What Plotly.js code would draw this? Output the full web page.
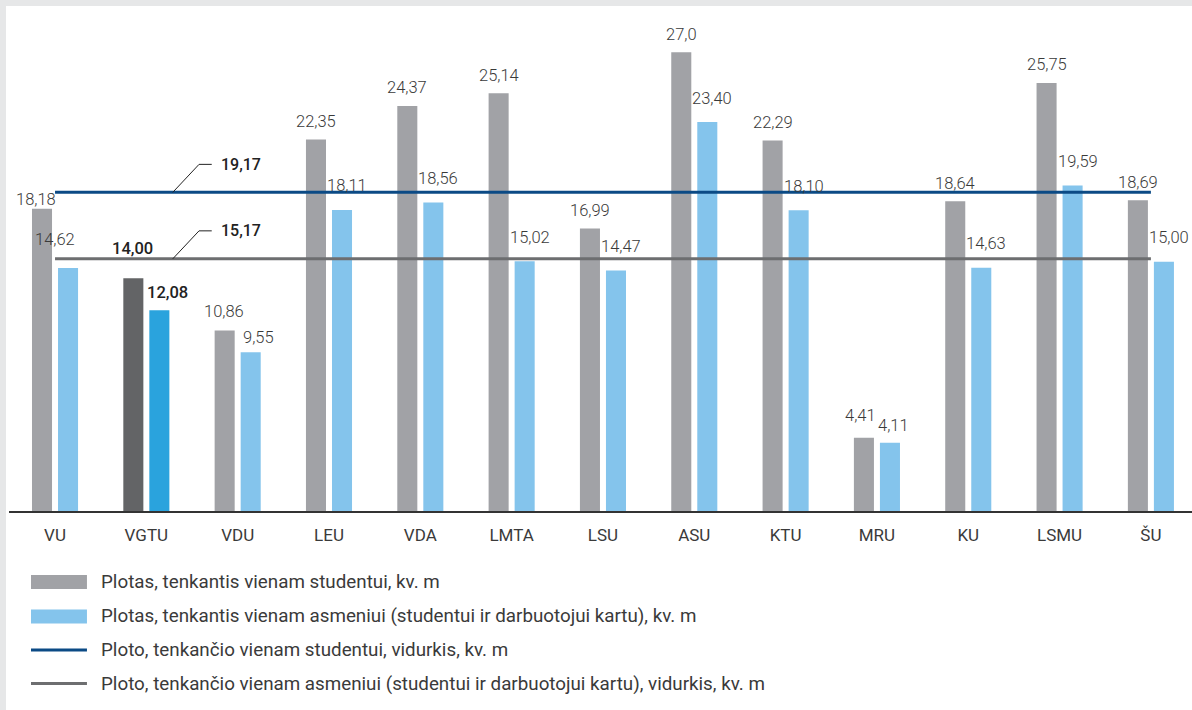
<!DOCTYPE html>
<html>
<head>
<meta charset="utf-8">
<script src="https://cdn.plot.ly/plotly-3.0.1.min.js"></script>
<style>
  html, body { margin: 0; padding: 0; background: #e6e7e8; width: 1192px; height: 710px; overflow: hidden; }
  #panel { position: absolute; left: 6px; top: 6px; width: 1186px; height: 704px; background: #ffffff; }
  #chart { width: 1186px; height: 704px; }
</style>
</head>
<body>
<div id="panel"><div id="chart"></div></div>
<script>
// ---- data ----
const categories = ["VU", "VGTU", "VDU", "LEU", "VDA", "LMTA", "LSU", "ASU", "KTU", "MRU", "KU", "LSMU", "ŠU"];
const perStudent = [18.18, 14.00, 10.86, 22.35, 24.37, 25.14, 16.99, 27.6, 22.29, 4.41, 18.64, 25.75, 18.69];
const perPerson  = [14.62, 12.08, 9.55, 18.11, 18.56, 15.02, 14.47, 23.40, 18.10, 4.11, 14.63, 19.59, 15.00];
const perStudentLabels = ["18,18", "14,00", "10,86", "22,35", "24,37", "25,14", "16,99", "27,0", "22,29", "4,41", "18,64", "25,75", "18,69"];
const perPersonLabels  = ["14,62", "12,08", "9,55", "18,11", "18,56", "15,02", "14,47", "23,40", "18,10", "4,11", "14,63", "19,59", "15,00"];
const avgStudent = 19.17;
const avgPerson = 15.17;
const avgStudentLabel = "19,17";
const avgPersonLabel = "15,17";
const seriesNames = [
  "Plotas, tenkantis vienam studentui, kv. m",
  "Plotas, tenkantis vienam asmeniui (studentui ir darbuotojui kartu), kv. m",
  "Ploto, tenkančio vienam studentui, vidurkis, kv. m",
  "Ploto, tenkančio vienam asmeniui (studentui ir darbuotojui kartu), vidurkis, kv. m"
];
const highlight = "VGTU";

// ---- styles ----
const C_GRAY = "#a1a2a6", C_BLUE = "#84c4ec";
const C_GRAY_HI = "#636466", C_BLUE_HI = "#2aa3dd";
const C_LINE_STUDENT = "#0b4a85", C_LINE_PERSON = "#6d6e70";
const TXT = "#3a3a3a";
const FONT = "Roboto, 'Open Sans', sans-serif";

const grayColors = categories.map(c => c === highlight ? C_GRAY_HI : C_GRAY);
const blueColors = categories.map(c => c === highlight ? C_BLUE_HI : C_BLUE);

const traces = [
  { type: "bar", x: categories, y: perStudent, name: seriesNames[0], marker: { color: grayColors }, hoverinfo: "x+y" },
  { type: "bar", x: categories, y: perPerson, name: seriesNames[1], marker: { color: blueColors }, hoverinfo: "x+y" },
  { type: "scatter", mode: "lines", x: [categories[0], categories[categories.length - 1]], y: [avgStudent, avgStudent],
    name: seriesNames[2], line: { color: C_LINE_STUDENT, width: 3 } },
  { type: "scatter", mode: "lines", x: [categories[0], categories[categories.length - 1]], y: [avgPerson, avgPerson],
    name: seriesNames[3], line: { color: C_LINE_PERSON, width: 3 } }
];

// label offsets (pixels) for a few crowded spots
const labelOffsets = {
  "VU":   { gdx: -6, gdy: 9,  bdx: 0,  bdy: 28 },
  "VGTU": { gdx: -1, gdy: 30, bdx: 21, bdy: 18 },
  "VDU":  { gdx: -1, gdy: 19, bdx: 21, bdy: 15 },
  "MRU":  { gdx: -3, gdy: 22, bdx: 17, bdy: 17 }
};

const annotations = [];
categories.forEach((c, i) => {
  const hi = c === highlight;
  const o = labelOffsets[c] || { gdx: 0, gdy: 18, bdx: 18, bdy: 24 };
  const fnt = hi ? { family: FONT, size: 16.5, color: "#222", weight: 500 } : { family: FONT, size: 16.5, color: TXT, weight: 300 };
  annotations.push({ xref: "x", yref: "y", x: c, y: perStudent[i], text: perStudentLabels[i], showarrow: false,
    xshift: -13 + o.gdx, yshift: o.gdy, yanchor: "middle", xanchor: "center", font: fnt });
  annotations.push({ xref: "x", yref: "y", x: c, y: perPerson[i], text: perPersonLabels[i], showarrow: false,
    xshift: o.bdx, yshift: o.bdy, yanchor: "middle", xanchor: "center", font: fnt });
});
// average labels
[[avgStudent, avgStudentLabel], [avgPerson, avgPersonLabel]].forEach(([v, t]) => {
  annotations.push({ xref: "x", yref: "y", x: 1.80, y: v, yshift: 28, text: t, showarrow: false,
    xanchor: "left", yanchor: "middle", font: { family: FONT, size: 16, color: "#222", weight: 500 } });
});

const shapes = [];
[avgStudent, avgPerson].forEach(v => {
  shapes.push({ type: "line", xref: "x", yref: "y", ysizemode: "pixel", yanchor: v,
    x0: 1.289, y0: 0, x1: 1.577, y1: 28, line: { color: "#222", width: 1 } });
  shapes.push({ type: "line", xref: "x", yref: "y", ysizemode: "pixel", yanchor: v,
    x0: 1.577, y0: 28, x1: 1.716, y1: 28, line: { color: "#222", width: 1 } });
});

// custom legend (below plot)
const legendY = [-0.1434, -0.2131, -0.2808, -0.3485];
const legendColors = [C_GRAY, C_BLUE, C_LINE_STUDENT, C_LINE_PERSON];
seriesNames.forEach((n, k) => {
  const y = legendY[k];
  if (k < 2) {
    shapes.push({ type: "rect", xref: "paper", yref: "paper", x0: 0.0186, x1: 0.0659, y0: y - 0.0141, y1: y + 0.0141,
      fillcolor: legendColors[k], line: { width: 0 } });
  } else {
    shapes.push({ type: "line", xref: "paper", yref: "paper", x0: 0.0186, x1: 0.0659, y0: y, y1: y,
      line: { color: legendColors[k], width: 3 } });
  }
  annotations.push({ xref: "paper", yref: "paper", x: 0.0761, y: y, text: n, showarrow: false,
    xanchor: "left", yanchor: "middle", font: { family: FONT, size: 18.8, color: TXT, weight: 400 } });
});

const layout = {
  width: 1186, height: 704,
  margin: { l: 3, r: 0, t: 10, b: 199 },
  paper_bgcolor: "rgba(0,0,0,0)", plot_bgcolor: "rgba(0,0,0,0)",
  barmode: "group", bargap: 0.43, bargroupgap: 0.23,
  showlegend: false,
  xaxis: { type: "category", range: [-0.504, 12.45], showgrid: false, zeroline: false,
    showline: true, linecolor: "#333", linewidth: 1.5, ticks: "", ticklabelstandoff: 8,
    tickfont: { family: FONT, size: 17, color: TXT }, fixedrange: true },
  yaxis: { range: [0, 29.78], showgrid: false, zeroline: false, showticklabels: false, showline: false, ticks: "", fixedrange: true },
  font: { family: FONT, color: TXT },
  annotations: annotations, shapes: shapes
};

Plotly.newPlot("chart", traces, layout, { displayModeBar: false, staticPlot: true });
</script>
</body>
</html>
